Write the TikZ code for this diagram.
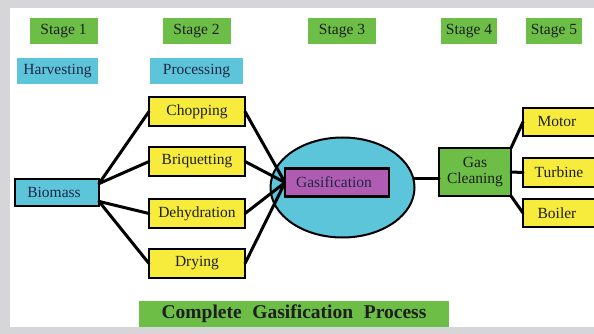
\documentclass[tikz,border=0pt]{standalone}
\usepackage{fontspec}
\setmainfont{Liberation Serif}
\usetikzlibrary{shapes.geometric,calc}
\definecolor{sgreen}{RGB}{108,190,70}
\definecolor{scyan}{RGB}{92,197,218}
\definecolor{syellow}{RGB}{247,236,60}
\definecolor{spurple}{RGB}{176,92,178}
\definecolor{framegray}{RGB}{214,214,216}
\definecolor{txt}{RGB}{30,30,30}
\definecolor{navy}{RGB}{30,40,70}
\tikzset{
  flat/.style={rectangle,inner sep=0pt,outer sep=0pt,text=txt,font=\fontsize{15.5}{17}\selectfont},
  stagebox/.style={flat,fill=sgreen,minimum width=68pt,minimum height=26pt},
  phasebox/.style={flat,fill=scyan,text=navy,minimum height=26pt},
  ybox/.style={flat,fill=syellow,draw=black,line width=2.6pt,minimum width=96pt,minimum height=29pt},
  gbox/.style={flat,fill=spurple,text=navy,draw=black,line width=2.6pt,minimum width=104pt,minimum height=28pt},
  conn/.style={line width=3pt,line cap=round},
}
\begin{document}
\begin{tikzpicture}[x=1pt,y=-1pt]
\useasboundingbox (0,0) rectangle (594,334);
\clip (0,0) rectangle (594,334);
\fill[framegray] (0,0) rectangle (594,334);
\fill[white] (10,8) rectangle (600,327);
% stages
\node[stagebox] (s1) at (63.5,31) {Stage 1};
\node[stagebox] (s2) at (196.5,31) {Stage 2};
\node[stagebox] (s3) at (342,31) {Stage 3};
\node[stagebox,minimum width=56pt] (s4) at (469,31) {Stage 4};
\node[stagebox,minimum width=56pt] (s5) at (554,31) {Stage 5};
\node[phasebox,minimum width=81pt] (harv) at (57.5,71) {Harvesting};
\node[phasebox,minimum width=93pt] (proc) at (196.5,71) {Processing};
% process boxes
\node[ybox] (chop) at (197,111.5) {Chopping};
\node[ybox] (briq) at (197,161.5) {Briquetting};
\node[ybox] (dehy) at (197,213.5) {Dehydration};
\node[ybox] (dry) at (197,263.5) {Drying};
\node[flat,fill=scyan,text=navy,draw=black,line width=2.6pt,minimum width=84pt,minimum height=27pt] (bio) at (57,192.5) {\hspace*{-6pt}Biomass};
% gas cleaning
\node[flat,fill=sgreen,draw=black,line width=2.6pt,minimum width=72pt,minimum height=48pt,align=center,font=\fontsize{15.5}{16}\selectfont] (gc) at (475,172) {Gas\\Cleaning};
\draw[conn] ($(gc.west)+(-60,6)$) -- ($(gc.west)+(0,6)$);
\node[ellipse,fill=scyan,draw=black,line width=2pt,minimum width=144pt,minimum height=100pt,inner sep=0pt] (ell) at (342.5,187.5) {};
% connectors
\draw[conn] (bio.12) -- (chop.west);
\draw[conn] (bio.12) -- (briq.west);
\draw[conn] (bio.-12) -- (dehy.west);
\draw[conn] (bio.-12) -- (dry.west);
\node[gbox] (gas) at (337,182.5) {};
\draw[conn] (chop.east) -- (gas.west);
\draw[conn] (briq.east) -- (gas.west);
\draw[conn] (dehy.east) -- (gas.west);
\draw[conn] (dry.east) -- (gas.west);
\node[gbox] (gasf) at (gas) {\hspace*{-6pt}Gasification};
% stage 5 boxes
\node[ybox,minimum width=80pt,minimum height=28pt] (motor) at (563,122) {\hspace*{-12pt}Motor};
\node[ybox,minimum width=80pt] (turb) at (563,172.5) {\hspace*{-8pt}Turbine};
\node[ybox,minimum width=80pt,minimum height=28pt] (boil) at (563,213) {\hspace*{-12pt}Boiler};
\draw[conn] (gc.north east) -- (motor.west);
\draw[conn] (gc.east) -- (turb.west);
\draw[conn] (gc.south east) -- (boil.west);
% title
\node[flat,fill=sgreen,minimum width=310pt,minimum height=26pt,font=\bfseries\fontsize{19.5}{21}\selectfont] (title) at (294,314) {Complete\hspace{0.55em}Gasification\hspace{0.55em}Process};
\end{tikzpicture}
\end{document}
